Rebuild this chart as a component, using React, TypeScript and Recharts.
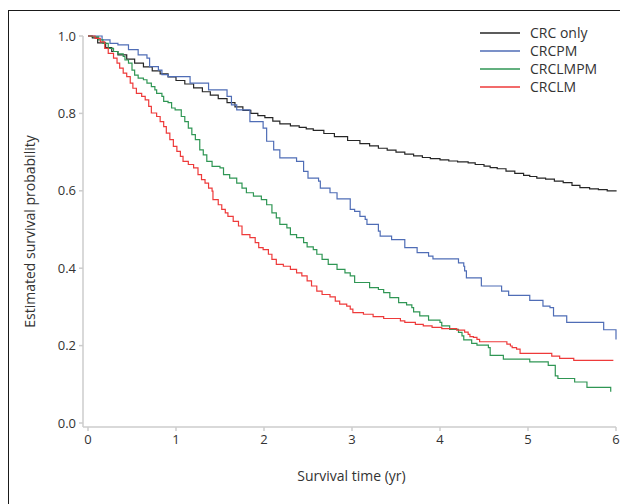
import React from 'react';
import { LineChart, Line, XAxis, YAxis } from 'recharts';

const xTicks = [0, 1, 2, 3, 4, 5, 6];
const yTicks = [0, 0.2, 0.4, 0.6, 0.8, 1.0];

const seriesNames = ['CRC only', 'CRCPM', 'CRCLMPM', 'CRCLM'];
const seriesColors = ['#262626', '#4f6db6', '#2f9654', '#ee3a3a'];

const crcOnly: number[][] = [
  [0, 1.0], [0.05, 0.995], [0.11, 0.982], [0.2, 0.97], [0.27, 0.96], [0.34, 0.951], [0.44, 0.94], [0.53, 0.93],
  [0.63, 0.92], [0.73, 0.91], [0.82, 0.902], [0.91, 0.894], [1.0, 0.885], [1.1, 0.876], [1.2, 0.866], [1.3, 0.856],
  [1.39, 0.847], [1.48, 0.838], [1.58, 0.828], [1.67, 0.817], [1.76, 0.808], [1.85, 0.8], [1.93, 0.794], [2.01, 0.789],
  [2.1, 0.78], [2.18, 0.773], [2.3, 0.768], [2.4, 0.764], [2.48, 0.76], [2.56, 0.756], [2.68, 0.748], [2.8, 0.74],
  [2.95, 0.73], [3.09, 0.722], [3.2, 0.716], [3.3, 0.71], [3.4, 0.705], [3.5, 0.7], [3.6, 0.695], [3.7, 0.69],
  [3.8, 0.686], [3.89, 0.683], [4.0, 0.68], [4.1, 0.677], [4.2, 0.675], [4.32, 0.672], [4.4, 0.668], [4.5, 0.664],
  [4.57, 0.66], [4.65, 0.657], [4.75, 0.651], [4.85, 0.645], [4.95, 0.64], [5.02, 0.637], [5.1, 0.633], [5.2, 0.63],
  [5.3, 0.625], [5.4, 0.621], [5.5, 0.614], [5.59, 0.608], [5.7, 0.605], [5.8, 0.603], [5.9, 0.6], [6.0, 0.598],
];

const crcpm: number[][] = [
  [0, 1.0], [0.16, 0.99], [0.25, 0.981], [0.34, 0.977], [0.46, 0.965], [0.57, 0.951], [0.67, 0.943], [0.7, 0.921],
  [0.8, 0.912], [0.84, 0.9], [0.91, 0.895], [1.16, 0.878], [1.37, 0.861], [1.58, 0.844], [1.63, 0.822], [1.69, 0.809],
  [1.84, 0.779], [1.99, 0.762], [2.03, 0.728], [2.11, 0.706], [2.18, 0.685], [2.37, 0.676], [2.45, 0.65], [2.5, 0.633],
  [2.62, 0.625], [2.64, 0.607], [2.75, 0.595], [2.83, 0.579], [2.98, 0.552], [3.03, 0.547], [3.09, 0.534], [3.15, 0.526],
  [3.17, 0.513], [3.3, 0.496], [3.32, 0.483], [3.45, 0.474], [3.6, 0.453], [3.74, 0.44], [3.87, 0.431], [3.92, 0.424],
  [4.21, 0.414], [4.27, 0.405], [4.28, 0.393], [4.3, 0.375], [4.47, 0.354], [4.7, 0.341], [4.78, 0.33], [5.02, 0.317],
  [5.17, 0.302], [5.25, 0.298], [5.29, 0.277], [5.44, 0.26], [5.86, 0.241], [6.0, 0.216],
];

const crclmpm: number[][] = [
  [0, 1.0], [0.04, 0.998], [0.12, 0.99], [0.17, 0.981], [0.23, 0.968], [0.29, 0.96], [0.34, 0.954], [0.4, 0.947],
  [0.42, 0.938], [0.46, 0.93], [0.5, 0.912], [0.53, 0.899], [0.57, 0.891], [0.63, 0.887], [0.67, 0.878], [0.72, 0.869],
  [0.76, 0.861], [0.78, 0.852], [0.84, 0.844], [0.86, 0.831], [0.91, 0.828], [0.95, 0.814], [0.99, 0.809], [1.06, 0.792],
  [1.1, 0.779], [1.14, 0.762], [1.18, 0.745], [1.22, 0.732], [1.27, 0.706], [1.31, 0.693], [1.35, 0.676], [1.41, 0.663],
  [1.5, 0.659], [1.54, 0.642], [1.61, 0.633], [1.69, 0.62], [1.75, 0.607], [1.8, 0.595], [1.88, 0.586], [1.97, 0.577],
  [2.03, 0.564], [2.09, 0.543], [2.14, 0.53], [2.18, 0.513], [2.26, 0.504], [2.3, 0.487], [2.37, 0.479], [2.45, 0.466],
  [2.49, 0.455], [2.56, 0.448], [2.6, 0.436], [2.66, 0.423], [2.73, 0.41], [2.83, 0.397], [2.92, 0.388], [2.98, 0.38],
  [3.03, 0.363], [3.2, 0.35], [3.3, 0.345], [3.36, 0.337], [3.43, 0.324], [3.53, 0.311], [3.62, 0.305], [3.68, 0.298],
  [3.7, 0.287], [3.77, 0.277], [3.87, 0.266], [4.0, 0.26], [4.02, 0.251], [4.11, 0.242], [4.21, 0.234], [4.25, 0.225],
  [4.27, 0.215], [4.36, 0.206], [4.42, 0.201], [4.55, 0.195], [4.57, 0.175], [4.72, 0.165], [5.02, 0.158], [5.23, 0.149],
  [5.31, 0.122], [5.34, 0.115], [5.53, 0.106], [5.67, 0.092], [5.94, 0.081],
];

const crclm: number[][] = [
  [0, 1.0], [0.08, 0.994], [0.14, 0.985], [0.19, 0.968], [0.23, 0.955], [0.29, 0.943], [0.33, 0.93], [0.36, 0.917],
  [0.4, 0.904], [0.44, 0.895], [0.48, 0.878], [0.51, 0.865], [0.55, 0.852], [0.61, 0.844], [0.65, 0.835], [0.69, 0.818],
  [0.72, 0.801], [0.78, 0.792], [0.82, 0.779], [0.86, 0.766], [0.89, 0.749], [0.93, 0.732], [0.97, 0.715], [1.01, 0.702],
  [1.05, 0.689], [1.08, 0.676], [1.14, 0.668], [1.2, 0.659], [1.25, 0.642], [1.29, 0.629], [1.33, 0.62], [1.37, 0.607],
  [1.41, 0.599], [1.42, 0.577], [1.48, 0.564], [1.52, 0.552], [1.56, 0.543], [1.59, 0.534], [1.65, 0.521], [1.71, 0.509],
  [1.75, 0.487], [1.84, 0.479], [1.9, 0.466], [1.94, 0.453], [1.99, 0.448], [2.05, 0.436], [2.09, 0.423], [2.14, 0.41],
  [2.22, 0.405], [2.3, 0.397], [2.37, 0.388], [2.43, 0.38], [2.49, 0.367], [2.54, 0.354], [2.6, 0.341], [2.66, 0.332],
  [2.75, 0.326], [2.81, 0.315], [2.86, 0.307], [2.94, 0.302], [2.98, 0.294], [3.01, 0.285], [3.13, 0.281], [3.24, 0.275],
  [3.36, 0.27], [3.55, 0.264], [3.6, 0.26], [3.72, 0.255], [3.81, 0.251], [3.91, 0.247], [4.02, 0.244], [4.19, 0.24],
  [4.28, 0.235], [4.32, 0.229], [4.34, 0.223], [4.38, 0.221], [4.42, 0.216], [4.45, 0.21], [4.76, 0.204], [4.8, 0.199],
  [4.82, 0.195], [4.87, 0.191], [4.91, 0.18], [5.27, 0.173], [5.36, 0.167], [5.52, 0.162], [5.97, 0.162],
];

const seriesData = [crcOnly, crcpm, crclmpm, crclm].map((arr) => arr.map(([t, s]) => ({ t, s })));

const FONT = '"Open Sans", "Noto Sans", sans-serif';
const AXIS_COLOR = '#cccccc';
const TEXT_COLOR = '#333333';

export default function App() {
  return (
    <div style={{ position: 'relative', width: 620, height: 496, fontFamily: FONT }}>
      <div
        style={{
          position: 'absolute', left: 0, top: 2, width: 620, height: 494,
          borderTop: '1px solid #1a1a1a', borderLeft: '1px solid #1a1a1a', boxSizing: 'border-box',
        }}
      />
      <LineChart width={620} height={496} margin={{ top: 28, right: 12, bottom: 47, left: 25 }}>
        <XAxis
          type="number"
          dataKey="t"
          domain={[0, 6]}
          ticks={xTicks}
          allowDuplicatedCategory={false}
          padding={{ left: 5, right: 0 }}
          height={30}
          stroke={AXIS_COLOR}
          strokeWidth={1.5}
          tickSize={4}
          tickMargin={4}
          tick={{ fill: TEXT_COLOR, fontSize: 13, fontFamily: FONT }}
          label={{ value: 'Survival time (yr)', position: 'bottom', offset: 14, dx: 2, style: { fill: TEXT_COLOR, fontSize: 14, fontFamily: FONT } }}
        />
        <YAxis
          type="number"
          dataKey="s"
          domain={[0, 1]}
          ticks={yTicks}
          padding={{ top: 0, bottom: 4 }}
          width={50}
          stroke={AXIS_COLOR}
          strokeWidth={1.5}
          tickSize={4}
          tickMargin={3}
          tickFormatter={(v: number) => v.toFixed(1)}
          tick={{ fill: TEXT_COLOR, fontSize: 13, fontFamily: FONT }}
          label={{ value: 'Estimated survival probability', angle: -90, position: 'insideLeft', offset: -3, style: { textAnchor: 'middle', fill: TEXT_COLOR, fontSize: 14, fontFamily: FONT } }}
        />
        {seriesData.map((d, i) => (
          <Line
            key={seriesNames[i]}
            data={d}
            dataKey="s"
            name={seriesNames[i]}
            type="stepAfter"
            stroke={seriesColors[i]}
            strokeWidth={1.2}
            dot={false}
            activeDot={false}
            isAnimationActive={false}
          />
        ))}
      </LineChart>
      <div style={{ position: 'absolute', left: 472, top: 16, width: 148 }}>
        {seriesNames.map((n, i) => (
          <div key={n} style={{ display: 'flex', alignItems: 'center', height: 18 }}>
            <svg width={50} height={18} style={{ display: 'block' }}>
              <line x1={0} x2={40} y1={9} y2={9} stroke={seriesColors[i]} strokeWidth={1.5} />
            </svg>
            <span style={{ fontSize: 14, color: TEXT_COLOR, lineHeight: '18px' }}>{n}</span>
          </div>
        ))}
      </div>
    </div>
  );
}
